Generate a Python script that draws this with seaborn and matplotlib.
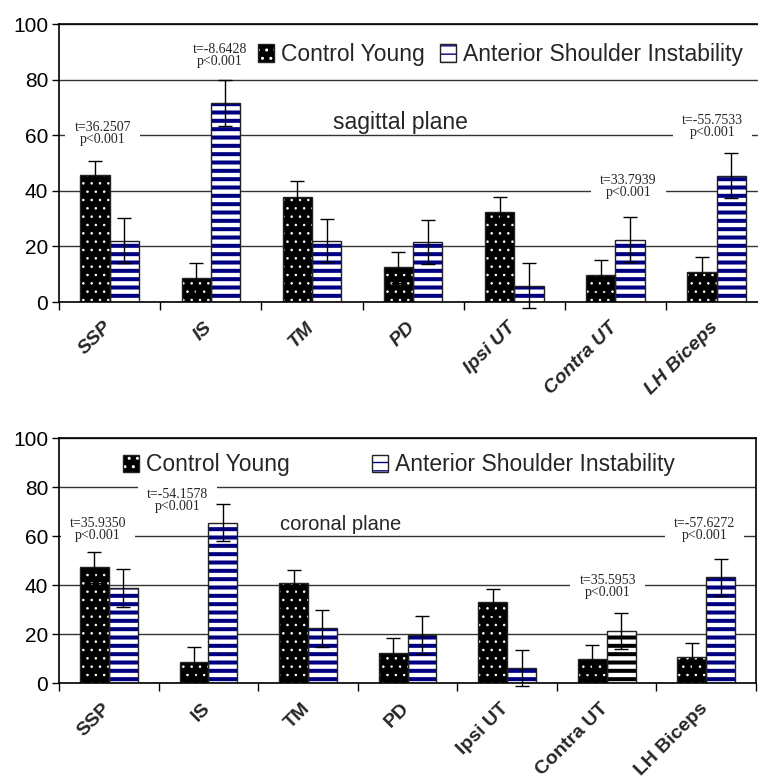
import numpy as np
import pandas as pd
import seaborn as sns
import matplotlib.pyplot as plt
from matplotlib.patches import Patch, Rectangle
from matplotlib.transforms import ScaledTranslation

sns.set_theme(style="white")
plt.rcParams['font.family'] = ['Liberation Sans', 'DejaVu Sans']

# ------------------------------------------------------------------
# data (mean % and SD)
muscles = ["SSP", "IS", "TM", "PD", "Ipsi UT", "Contra UT", "LH Biceps"]
groups = ["Control Young", "Anterior Shoulder Instability"]

sag_control = [45.6, 8.6, 37.8, 12.5, 32.5, 9.7, 10.8]
sag_control_sd = [5.1, 5.4, 5.9, 5.5, 5.2, 5.5, 5.5]
sag_asi = [22.1, 71.5, 22.1, 21.6, 5.9, 22.4, 45.5]
sag_asi_sd = [8.0, 8.2, 7.8, 8.0, 8.1, 8.1, 8.1]

cor_control = [47.2, 8.5, 40.7, 12.3, 33.1, 9.8, 10.7]
cor_control_sd = [6.2, 6.1, 5.6, 6.2, 5.4, 5.9, 5.6]
cor_asi = [38.7, 65.5, 22.4, 19.5, 6.1, 21.3, 43.1]
cor_asi_sd = [7.7, 7.6, 7.6, 7.7, 7.4, 7.4, 7.5]

sag_t = ["36.2507", "-8.6428", "33.7939", "-55.7533"]
cor_t = ["35.9350", "-54.1578", "35.5953", "-57.6272"]
p_text = "p<0.001"

# where the t-test notes sit (data coords)
sag_note_xy = [(-0.07, 60.8), (1.09, 88.6), (5.13, 41.7), (5.96, 63.0)]
cor_note_xy = [(-0.11, 62.6), (0.69, 74.3), (5.01, 39.4), (5.98, 62.6)]

NAVY = "#000080"
EDGE = "#222222"


def hatch_lw(p, lw):
    if hasattr(p, "set_hatch_linewidth"):
        p.set_hatch_linewidth(lw)


def long_table(control, asi):
    n = len(muscles)
    return pd.DataFrame({
        "muscle": muscles * 2,
        "group": [groups[0]] * n + [groups[1]] * n,
        "value": control + asi,
    })


def draw_panel(ax, control, control_sd, asi, asi_sd, t_vals, note_xy,
               plane, plane_xy, plane_size, italic, legend_x, colspace,
               black_stripe=()):
    df = long_table(control, asi)
    sns.barplot(data=df, x="muscle", y="value", hue="group", order=muscles,
                hue_order=groups, palette=["black", "white"], saturation=1,
                width=0.58, errorbar=None, legend=False, ax=ax)

    ctrl_bars, asi_bars = ax.containers[0], ax.containers[1]
    for p in ctrl_bars:
        p.set_facecolor("black")
        p.set_edgecolor("white")
        p.set_hatch("..")
        p.set_linewidth(0)
        hatch_lw(p, 0.6)
    for name, p in zip(muscles, asi_bars):
        p.set_facecolor("white")
        p.set_edgecolor("black" if name in black_stripe else NAVY)
        p.set_hatch("--")
        p.set_linewidth(0)
        hatch_lw(p, 2.9)
    for bars in (ctrl_bars, asi_bars):
        for p in bars:
            ax.add_patch(Rectangle(p.get_xy(), p.get_width(), p.get_height(),
                                   fill=False, ec=EDGE, lw=1.0, zorder=1.2))

    # error bars at bar centres
    for bars, vals, sds in ((ctrl_bars, control, control_sd),
                            (asi_bars, asi, asi_sd)):
        xs = [p.get_x() + p.get_width() / 2 for p in bars]
        ax.errorbar(xs, vals, yerr=sds, fmt="none", ecolor="black",
                    elinewidth=1.0, capsize=5, capthick=1.0, clip_on=False,
                    zorder=3)

    # t-test notes
    for (x, y), t in zip(note_xy, t_vals):
        ax.text(x, y, f"t={t}\n{p_text}", ha="center", va="center",
                family=["Liberation Serif", "DejaVu Serif"], fontsize=10,
                linespacing=0.9, zorder=0.8,
                bbox=dict(boxstyle="square,pad=0.65", fc="white", ec="none"))

    ax.text(plane_xy[0], plane_xy[1], plane, ha="center", va="baseline",
            fontsize=plane_size, zorder=0.8)

    # axes styling
    ax.set_xlim(-0.5, len(muscles) - 0.5)
    ax.set_ylim(0, 100)
    ax.set_yticks(np.arange(0, 101, 20))
    ax.set_xlabel("")
    ax.set_ylabel("")
    ax.set_axisbelow(True)
    ax.yaxis.grid(True, color="#333333", lw=1.0)
    ax.xaxis.grid(False)
    for s in ("left", "bottom", "top", "right"):
        ax.spines[s].set_color("black")
        ax.spines[s].set_linewidth(1.2)
    ax.tick_params(axis="y", length=5, width=1, direction="out", pad=3,
                   labelsize=15, left=True, colors="black")
    ax.set_xticks(np.arange(-0.5, len(muscles), 1), minor=True)
    ax.tick_params(axis="x", which="minor", length=6, width=1,
                   direction="out", bottom=True, color="black")
    ax.tick_params(axis="x", which="major", length=0, pad=12)
    ax.set_xticks(range(len(muscles)))
    ax.set_xticklabels(muscles, rotation=45, ha="right", va="top",
                       rotation_mode="anchor", fontsize=14, fontweight="bold",
                       fontstyle="italic" if italic else "normal")
    shift = ScaledTranslation(-5 / 72, 0, ax.figure.dpi_scale_trans)
    for lab in ax.get_xticklabels():
        lab.set_transform(lab.get_transform() + shift)

    # legend inside the top strip
    h_ctrl = Patch(fc="black", ec="white", hatch="..", lw=0)
    h_asi = Patch(fc="white", ec=NAVY, hatch="--", lw=0)
    hatch_lw(h_ctrl, 0.6)
    hatch_lw(h_asi, 2.0)
    box1 = Patch(fill=False, ec=EDGE, lw=1)
    box2 = Patch(fill=False, ec=EDGE, lw=1)
    ax.legend([(h_ctrl, box1), (h_asi, box2)], groups, ncol=2,
              loc="center left", bbox_to_anchor=(legend_x, 0.89),
              frameon=False, fontsize=16.5, handlelength=0.7,
              handleheight=0.8, handletextpad=0.3, columnspacing=colspace,
              borderpad=0, borderaxespad=0)


fig = plt.figure(figsize=(7.58, 7.83), dpi=100)
ax1 = fig.add_axes([0.078, 0.6143, 0.934, 0.3550])
ax2 = fig.add_axes([0.078, 0.1277, 0.9194, 0.3129])

draw_panel(ax1, sag_control, sag_control_sd, sag_asi, sag_asi_sd,
           sag_t, sag_note_xy, "sagittal plane", (2.87, 62.2), 16.5,
           True, 0.281, 0.65)
ax1.spines["right"].set_visible(False)

draw_panel(ax2, cor_control, cor_control_sd, cor_asi, cor_asi_sd,
           cor_t, cor_note_xy, "coronal plane", (2.33, 62.4), 14.5,
           False, 0.092, 3.6, black_stripe=("Contra UT",))

fig.savefig("out.png", dpi=100)
